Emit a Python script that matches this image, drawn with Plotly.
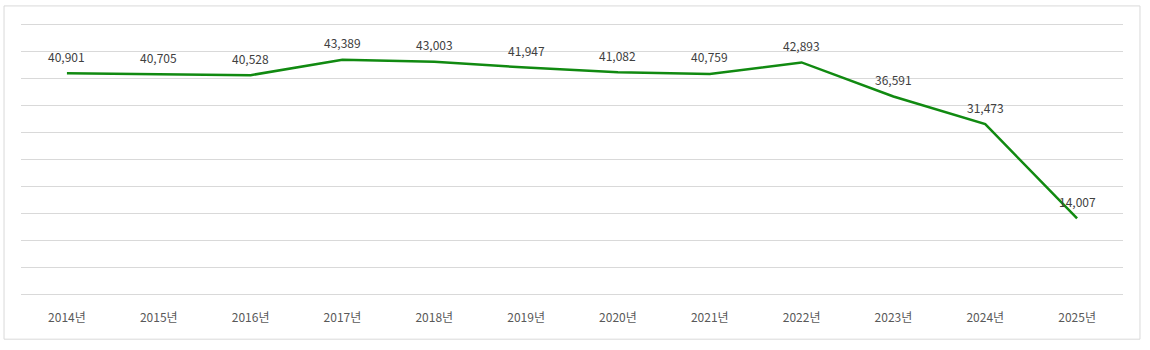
import plotly.graph_objects as go

# Yearly totals
years = ["2014년", "2015년", "2016년", "2017년", "2018년", "2019년",
         "2020년", "2021년", "2022년", "2023년", "2024년", "2025년"]
values = [40901, 40705, 40528, 43389, 43003, 41947,
          41082, 40759, 42893, 36591, 31473, 14007]

LINE_GREEN = "#118a11"
GRID = "#d9d9d9"
LABEL_GRAY = "#404040"
TICK_GRAY = "#595959"
FONT = "Noto Sans CJK KR"

fig = go.Figure()
fig.add_trace(go.Scatter(
    x=years, y=values, mode="lines",
    line=dict(color=LINE_GREEN, width=2.5),
    hoverinfo="skip", showlegend=False,
))

# value labels above each point
for yr, v in zip(years, values):
    fig.add_annotation(
        x=yr, y=v, text=f"{v:,}", showarrow=False,
        yshift=17, yanchor="middle",
        font=dict(family=FONT, size=12, color=LABEL_GRAY),
    )

# outer chart border
fig.add_shape(
    type="rect", xref="paper", yref="paper",
    x0=-0.0154, x1=1.0154, y0=-0.1667, y1=1.063,
    line=dict(color=GRID, width=1), fillcolor="rgba(0,0,0,0)",
    layer="below",
)

fig.update_layout(
    width=1150, height=350,
    margin=dict(l=21, r=27, t=23, b=56),
    paper_bgcolor="white", plot_bgcolor="white",
    font=dict(family=FONT),
    xaxis=dict(
        type="category", range=[-0.5, len(years) - 0.5],
        showgrid=False, zeroline=False,
        showline=False, ticks="",
        tickfont=dict(family=FONT, size=12, color=TICK_GRAY),
        ticklabelstandoff=15,
        fixedrange=True,
    ),
    yaxis=dict(
        range=[0, 50200], tickvals=list(range(0, 50001, 5000)),
        showticklabels=False,
        showgrid=True, gridcolor=GRID, gridwidth=1,
        zeroline=True, zerolinecolor=GRID, zerolinewidth=1,
        showline=False, fixedrange=True,
    ),
)

fig.write_html("out.html")
